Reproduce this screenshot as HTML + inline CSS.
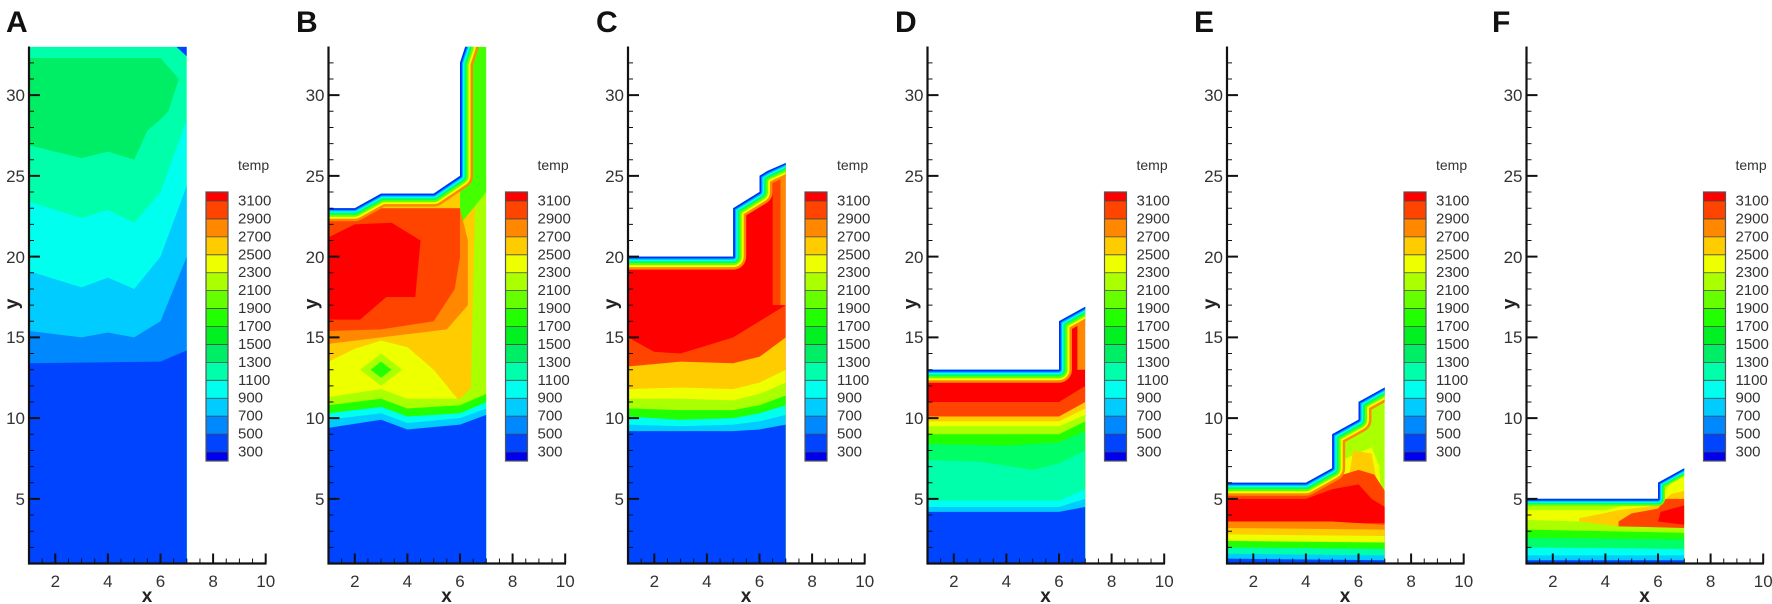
<!DOCTYPE html>
<html><head><meta charset="utf-8"><style>
html,body{margin:0;padding:0;background:#fff}
svg{display:block}
text{font-family:"Liberation Sans",Arial,sans-serif}
.tl{font-size:17px;fill:#333}
.cb{font-size:15px;fill:#333;dominant-baseline:central}
.ax{font-size:19px;font-weight:bold;fill:#222}
.lt{font-size:30px;font-weight:bold;fill:#111}
</style></head><body>
<svg width="1772" height="604" viewBox="0 0 1772 604" xmlns="http://www.w3.org/2000/svg">
<defs>
<g id="axes" stroke="#111" fill="none">
<path stroke-width="1" d="M29 547.35h5M29 531.2h5M29 515.05h5M29 482.75h5M29 466.6h5M29 450.45h5M29 434.3h5M29 402h5M29 385.85h5M29 369.7h5M29 353.55h5M29 321.25h5M29 305.1h5M29 288.95h5M29 272.8h5M29 240.5h5M29 224.35h5M29 208.2h5M29 192.05h5M29 159.75h5M29 143.6h5M29 127.45h5M29 111.3h5M29 79h5M29 62.85h5M42.15 563.5v-5M68.45 563.5v-5M81.6 563.5v-5M94.75 563.5v-5M121.05 563.5v-5M134.2 563.5v-5M147.35 563.5v-5M173.65 563.5v-5M186.8 563.5v-5M199.95 563.5v-5M226.25 563.5v-5M239.4 563.5v-5M252.55 563.5v-5"/>
<path stroke-width="2" d="M29 498.9h11M29 418.15h11M29 337.4h11M29 256.65h11M29 175.9h11M29 95.15h11M55.3 563.5v-10M107.9 563.5v-10M160.5 563.5v-10M213.1 563.5v-10M265.7 563.5v-10"/>
<path stroke-width="2.2" d="M29 46.5V564.5M28 563.5H266.5"/>
</g>
<g id="cbar">
<rect x="206" y="192" width="22" height="9" fill="#ff0000"/>
<rect x="206" y="201" width="22" height="17.93" fill="#ff4400"/>
<rect x="206" y="218.93" width="22" height="17.93" fill="#ff8800"/>
<rect x="206" y="236.86" width="22" height="17.93" fill="#ffcc00"/>
<rect x="206" y="254.79" width="22" height="17.93" fill="#eeff00"/>
<rect x="206" y="272.72" width="22" height="17.93" fill="#aaff00"/>
<rect x="206" y="290.65" width="22" height="17.93" fill="#66ff00"/>
<rect x="206" y="308.58" width="22" height="17.93" fill="#22ff00"/>
<rect x="206" y="326.51" width="22" height="17.93" fill="#00f022"/>
<rect x="206" y="344.44" width="22" height="17.93" fill="#00ee66"/>
<rect x="206" y="362.37" width="22" height="17.93" fill="#00ffaa"/>
<rect x="206" y="380.3" width="22" height="17.93" fill="#00ffee"/>
<rect x="206" y="398.23" width="22" height="17.93" fill="#00ccff"/>
<rect x="206" y="416.16" width="22" height="17.93" fill="#0088ff"/>
<rect x="206" y="434.09" width="22" height="17.93" fill="#0044ff"/>
<rect x="206" y="452" width="22" height="9" fill="#0000ee"/>
<path stroke="#444" stroke-width="0.8" fill="none" d="M206 201h22M206 218.93h22M206 236.86h22M206 254.79h22M206 272.72h22M206 290.65h22M206 308.58h22M206 326.51h22M206 344.44h22M206 362.37h22M206 380.3h22M206 398.23h22M206 416.16h22M206 434.09h22M206 452h22"/>
<rect x="206" y="192" width="22" height="269" fill="none" stroke="#555" stroke-width="1.2"/>
</g>
<clipPath id="cA" clipPathUnits="userSpaceOnUse"><rect x="1" y="1" width="6" height="32"/></clipPath>
<clipPath id="cB" clipPathUnits="userSpaceOnUse"><polygon points="1,1 7,1 7,33 6.2,33 6,32 6,25 5,23.9 3,23.9 2,23 1,23"/></clipPath>
<clipPath id="cC" clipPathUnits="userSpaceOnUse"><polygon points="1,1 7,1 7,25.8 6.3,25.3 6,25 6,24 5,23 5,20 1,20"/></clipPath>
<clipPath id="cD" clipPathUnits="userSpaceOnUse"><polygon points="1,1 7,1 7,16.9 6,16 6,13 1,13"/></clipPath>
<clipPath id="cE" clipPathUnits="userSpaceOnUse"><polygon points="1,1 7,1 7,11.9 6,11 6,9.9 5,9 5,6.9 4,6 1,6"/></clipPath>
<clipPath id="cF" clipPathUnits="userSpaceOnUse"><polygon points="1,1 7,1 7,6.9 6,6 6,5 1,5"/></clipPath>
</defs>

<!-- Panel A -->
<g transform="translate(0,0)">
<g transform="translate(29,563.5) scale(26.3,-16.15) translate(-1,-1)" clip-path="url(#cA)">
<rect x="1" y="1" width="6" height="32" fill="#00ffaa"/>
<polygon fill="#00ee66" points="1,32.3 6,32.3 6.7,31 6.3,29 6,28.5 5.5,27.8 5,26 4,26.5 3,26.1 1,26.9"/>
<polygon fill="#00ffee" points="1,23.4 3,22.4 4,22.9 5,22.1 6,24 7,28.5 7,1 1,1"/>
<polygon fill="#00ccff" points="1,19.1 3,18.1 4,18.7 5,18 6,20 7,24.4 7,1 1,1"/>
<polygon fill="#0088ff" points="1,15.4 3,15 4,15.3 5,15 6,16 7,20 7,1 1,1"/>
<polygon fill="#0044ff" points="1,13.4 6,13.5 7,14.2 7,1 1,1"/>
<polygon fill="#0044ff" points="6.6,33 7,33 7,32.4"/>
</g>
<use href="#axes"/><use href="#cbar"/>
</g>

<!-- Panel B -->
<g transform="translate(299.5,0)">
<g transform="translate(29,563.5) scale(26.3,-16.15) translate(-1,-1)" clip-path="url(#cB)">
<rect x="1" y="1" width="6" height="32" fill="#ffcc00"/>
<polygon fill="#aaff00" points="6.4,11 7,11 7,25 6.6,25"/>
<polygon fill="#44ff00" points="6,22 7,24 7,33 6,33"/>
<polygon fill="#ff8800" points="1,23 6,23 6.3,21 6.3,17 5.5,15.5 3,15 1,14.6"/>
<polygon fill="#ff4400" points="1,23 6,23 6,20 5.8,18 5,16 3,15.5 1,15.4"/>
<polygon fill="#ff0000" points="1,21.2 2,22 3.4,22.1 4.5,21 4.3,17.5 3.2,17.5 2.2,16.1 1,16.1"/>
<polygon fill="#eeff00" points="1,13.5 2,14.3 3,14.8 4,14.4 5,13 5.5,12 6,11 6,10 1,10"/>
<polygon fill="#aaff00" points="2.2,13 3,14 3.8,13 3,12"/>
<polygon fill="#22ff00" points="2.6,13 3,13.5 3.4,13 3,12.5"/>
<polygon fill="#aaff00" points="1,11.3 3,11.8 4,11.2 6,11.2 6.5,12 7,12 7,1 1,1"/>
<polygon fill="#22ff00" points="1,10.8 3,11.2 4,10.6 6,10.8 7,11.5 7,1 1,1"/>
<polygon fill="#00ffee" points="1,10.3 3,10.7 4,10.1 6,10.3 7,11 7,1 1,1"/>
<polygon fill="#00ccff" points="1,9.9 3,10.3 4,9.7 6,10 7,10.6 7,1 1,1"/>
<polygon fill="#0044ff" points="1,9.4 3,9.9 4,9.3 6,9.6 7,10.2 7,1 1,1"/>
<g fill="none" vector-effect="non-scaling-stroke" stroke-linejoin="round">
<polyline vector-effect="non-scaling-stroke" stroke="#ff8800" stroke-width="26" points="0.9,23 2,23 3,23.9 5,23.9 6,25 6,32 6.2,33 6.3,33.6" fill="none"/>
<polyline vector-effect="non-scaling-stroke" stroke="#eeff00" stroke-width="21" points="0.9,23 2,23 3,23.9 5,23.9 6,25 6,32 6.2,33 6.3,33.6" fill="none"/>
<polyline vector-effect="non-scaling-stroke" stroke="#66ff00" stroke-width="17" points="0.9,23 2,23 3,23.9 5,23.9 6,25 6,32 6.2,33 6.3,33.6" fill="none"/>
<polyline vector-effect="non-scaling-stroke" stroke="#00ff66" stroke-width="13" points="0.9,23 2,23 3,23.9 5,23.9 6,25 6,32 6.2,33 6.3,33.6" fill="none"/>
<polyline vector-effect="non-scaling-stroke" stroke="#00ffee" stroke-width="9" points="0.9,23 2,23 3,23.9 5,23.9 6,25 6,32 6.2,33 6.3,33.6" fill="none"/>
<polyline vector-effect="non-scaling-stroke" stroke="#00aaff" stroke-width="6" points="0.9,23 2,23 3,23.9 5,23.9 6,25 6,32 6.2,33 6.3,33.6" fill="none"/>
<polyline vector-effect="non-scaling-stroke" stroke="#0030ff" stroke-width="3.5" points="0.9,23 2,23 3,23.9 5,23.9 6,25 6,32 6.2,33 6.3,33.6" fill="none"/>
</g>
</g>
<use href="#axes"/><use href="#cbar"/>
</g>

<!-- Panel C -->
<g transform="translate(599,0)">
<g transform="translate(29,563.5) scale(26.3,-16.15) translate(-1,-1)" clip-path="url(#cC)">
<rect x="1" y="1" width="6" height="32" fill="#ff0000"/>
<polygon fill="#ff4400" points="6.5,17 7,17 7,26 6.5,25"/>
<polygon fill="#ff8800" points="6.8,17 7,17 7,26 6.8,25.5"/>
<polygon fill="#ff4400" points="1,15 2,14.1 3,14 4,14.5 5,15 6,16 7,17 7,1 1,1"/>
<polygon fill="#ffcc00" points="1,13.2 3,13.5 5,13.4 6,13.8 7,15 7,1 1,1"/>
<polygon fill="#eeff00" points="1,11.8 3,11.9 5,11.8 6,12.2 7,13 7,1 1,1"/>
<polygon fill="#aaff00" points="1,11.2 3,11.2 5,11.1 6,11.5 7,12.2 7,1 1,1"/>
<polygon fill="#22ff00" points="1,10.6 3,10.5 5,10.5 6,10.8 7,11.4 7,1 1,1"/>
<polygon fill="#00ffee" points="1,10.1 3,9.9 5,10 6,10.3 7,10.8 7,1 1,1"/>
<polygon fill="#00ccff" points="1,9.6 3,9.5 5,9.6 6,9.8 7,10.2 7,1 1,1"/>
<polygon fill="#0044ff" points="1,9.2 5,9.2 6,9.3 7,9.6 7,1 1,1"/>
<polyline vector-effect="non-scaling-stroke" stroke="#ff8800" stroke-width="26" fill="none" stroke-linejoin="round" points="0.9,20 5,20 5,23 6,24 6,25 6.3,25.3 7.1,25.9"/>
<polyline vector-effect="non-scaling-stroke" stroke="#eeff00" stroke-width="21" fill="none" stroke-linejoin="round" points="0.9,20 5,20 5,23 6,24 6,25 6.3,25.3 7.1,25.9"/>
<polyline vector-effect="non-scaling-stroke" stroke="#66ff00" stroke-width="17" fill="none" stroke-linejoin="round" points="0.9,20 5,20 5,23 6,24 6,25 6.3,25.3 7.1,25.9"/>
<polyline vector-effect="non-scaling-stroke" stroke="#00ff66" stroke-width="13" fill="none" stroke-linejoin="round" points="0.9,20 5,20 5,23 6,24 6,25 6.3,25.3 7.1,25.9"/>
<polyline vector-effect="non-scaling-stroke" stroke="#00ffee" stroke-width="9" fill="none" stroke-linejoin="round" points="0.9,20 5,20 5,23 6,24 6,25 6.3,25.3 7.1,25.9"/>
<polyline vector-effect="non-scaling-stroke" stroke="#00aaff" stroke-width="6" fill="none" stroke-linejoin="round" points="0.9,20 5,20 5,23 6,24 6,25 6.3,25.3 7.1,25.9"/>
<polyline vector-effect="non-scaling-stroke" stroke="#0030ff" stroke-width="3.5" fill="none" stroke-linejoin="round" points="0.9,20 5,20 5,23 6,24 6,25 6.3,25.3 7.1,25.9"/>
</g>
<use href="#axes"/><use href="#cbar"/>
</g>

<!-- Panel D -->
<g transform="translate(898.5,0)">
<g transform="translate(29,563.5) scale(26.3,-16.15) translate(-1,-1)" clip-path="url(#cD)">
<rect x="1" y="1" width="6" height="32" fill="#ff0000"/>
<polygon fill="#ff8800" points="6.7,13 7,13 7,17 6.7,16.5"/>
<polygon fill="#ff4400" points="1,11 6,11 7,12 7,1 1,1"/>
<polygon fill="#ffcc00" points="1,10.1 6,10.1 7,11 7,1 1,1"/>
<polygon fill="#eeff00" points="1,9.8 6,9.8 7,10.6 7,1 1,1"/>
<polygon fill="#aaff00" points="1,9.5 6,9.5 7,10.2 7,1 1,1"/>
<polygon fill="#22ff00" points="1,9 6,9 7,9.8 7,1 1,1"/>
<polygon fill="#00ff66" points="1,8.4 4,8.3 6,8.5 7,9.2 7,1 1,1"/>
<polygon fill="#00ffaa" points="1,7.4 3,7.3 5,6.8 6,7.2 7,8 7,1 1,1"/>
<polygon fill="#00ffee" points="1,4.9 4,4.9 6,4.9 7,5.6 7,1 1,1"/>
<polygon fill="#00ccff" points="1,4.5 6,4.5 7,5 7,1 1,1"/>
<polygon fill="#0044ff" points="1,4.2 6,4.2 7,4.5 7,1 1,1"/>
<polyline vector-effect="non-scaling-stroke" stroke="#ff8800" stroke-width="26" fill="none" stroke-linejoin="round" points="0.9,13 6,13 6,16 7.1,17"/>
<polyline vector-effect="non-scaling-stroke" stroke="#eeff00" stroke-width="21" fill="none" stroke-linejoin="round" points="0.9,13 6,13 6,16 7.1,17"/>
<polyline vector-effect="non-scaling-stroke" stroke="#66ff00" stroke-width="17" fill="none" stroke-linejoin="round" points="0.9,13 6,13 6,16 7.1,17"/>
<polyline vector-effect="non-scaling-stroke" stroke="#00ff66" stroke-width="13" fill="none" stroke-linejoin="round" points="0.9,13 6,13 6,16 7.1,17"/>
<polyline vector-effect="non-scaling-stroke" stroke="#00ffee" stroke-width="9" fill="none" stroke-linejoin="round" points="0.9,13 6,13 6,16 7.1,17"/>
<polyline vector-effect="non-scaling-stroke" stroke="#00aaff" stroke-width="6" fill="none" stroke-linejoin="round" points="0.9,13 6,13 6,16 7.1,17"/>
<polyline vector-effect="non-scaling-stroke" stroke="#0030ff" stroke-width="3.5" fill="none" stroke-linejoin="round" points="0.9,13 6,13 6,16 7.1,17"/>
</g>
<use href="#axes"/><use href="#cbar"/>
</g>

<!-- Panel E -->
<g transform="translate(1198,0)">
<g transform="translate(29,563.5) scale(26.3,-16.15) translate(-1,-1)" clip-path="url(#cE)">
<rect x="1" y="1" width="6" height="32" fill="#aaff00"/>
<polygon fill="#eeff00" points="5.5,7.5 6.5,8.2 6.8,7 6.9,3 5,3"/>
<polygon fill="#ffcc00" points="5.8,8 6.5,7.8 6.7,6 6.8,3.5 5.5,5"/>
<polygon fill="#ff4400" points="1,5.3 4,5.3 5,6.3 6,6.8 6.6,6.5 7,5.5 7,1 1,1"/>
<polygon fill="#ff0000" points="1,5 4,5 5,5.6 6,5.9 6.5,5 7,4.5 7,3.5 1,3.5"/>
<polygon fill="#ff8800" points="1,3.6 5,3.6 7,3.4 7,1 1,1"/>
<polygon fill="#ffcc00" points="1,3.2 7,3.1 7,1 1,1"/>
<polygon fill="#eeff00" points="1,2.8 7,2.7 7,1 1,1"/>
<polygon fill="#22ff00" points="1,2.4 7,2.3 7,1 1,1"/>
<polygon fill="#00ffaa" points="1,2 7,1.9 7,1 1,1"/>
<polygon fill="#00ccff" points="1,1.6 7,1.5 7,1 1,1"/>
<polygon fill="#0044ff" points="1,1.3 7,1.2 7,1 1,1"/>
<polyline vector-effect="non-scaling-stroke" stroke="#ff8800" stroke-width="26" fill="none" stroke-linejoin="round" points="0.9,6 4,6 5,6.9 5,9 6,9.9 6,11 7.1,12"/>
<polyline vector-effect="non-scaling-stroke" stroke="#eeff00" stroke-width="21" fill="none" stroke-linejoin="round" points="0.9,6 4,6 5,6.9 5,9 6,9.9 6,11 7.1,12"/>
<polyline vector-effect="non-scaling-stroke" stroke="#66ff00" stroke-width="17" fill="none" stroke-linejoin="round" points="0.9,6 4,6 5,6.9 5,9 6,9.9 6,11 7.1,12"/>
<polyline vector-effect="non-scaling-stroke" stroke="#00ff66" stroke-width="13" fill="none" stroke-linejoin="round" points="0.9,6 4,6 5,6.9 5,9 6,9.9 6,11 7.1,12"/>
<polyline vector-effect="non-scaling-stroke" stroke="#00ffee" stroke-width="9" fill="none" stroke-linejoin="round" points="0.9,6 4,6 5,6.9 5,9 6,9.9 6,11 7.1,12"/>
<polyline vector-effect="non-scaling-stroke" stroke="#00aaff" stroke-width="6" fill="none" stroke-linejoin="round" points="0.9,6 4,6 5,6.9 5,9 6,9.9 6,11 7.1,12"/>
<polyline vector-effect="non-scaling-stroke" stroke="#0030ff" stroke-width="3.5" fill="none" stroke-linejoin="round" points="0.9,6 4,6 5,6.9 5,9 6,9.9 6,11 7.1,12"/>
</g>
<use href="#axes"/><use href="#cbar"/>
</g>

<!-- Panel F -->
<g transform="translate(1497.5,0)">
<g transform="translate(29,563.5) scale(26.3,-16.15) translate(-1,-1)" clip-path="url(#cF)">
<rect x="1" y="1" width="6" height="32" fill="#aaff00"/>
<polygon fill="#eeff00" points="1,4.3 4,4.3 5,4.7 6,5 6.5,6 7,6.5 7,1 1,1"/>
<polygon fill="#ffcc00" points="3,3.8 4.5,4.3 6,4.6 6.5,5.3 7,5.5 7,3 3,3"/>
<polygon fill="#ff4400" points="4.5,3.6 5,4.1 6,4.4 6.3,5 7,5 7,3.2 4.5,3.2"/>
<polygon fill="#ff0000" points="6,3.6 6.1,4.2 7,4.6 7,3.4"/>
<polygon fill="#aaff00" points="1,3.7 3,3.6 4.5,3.3 7,3.2 7,1 1,1"/>
<polygon fill="#22ff00" points="1,3.1 7,2.9 7,1 1,1"/>
<polygon fill="#00ff66" points="1,2.6 7,2.5 7,1 1,1"/>
<polygon fill="#00ffee" points="1,2 7,1.9 7,1 1,1"/>
<polygon fill="#00ccff" points="1,1.5 7,1.5 7,1 1,1"/>
<polygon fill="#0044ff" points="1,1.2 7,1.2 7,1 1,1"/>
<polyline vector-effect="non-scaling-stroke" stroke="#66ff00" stroke-width="14" fill="none" stroke-linejoin="round" points="0.9,5 6,5 6,6 7.1,7"/>
<polyline vector-effect="non-scaling-stroke" stroke="#00ff66" stroke-width="11" fill="none" stroke-linejoin="round" points="0.9,5 6,5 6,6 7.1,7"/>
<polyline vector-effect="non-scaling-stroke" stroke="#00ffee" stroke-width="8" fill="none" stroke-linejoin="round" points="0.9,5 6,5 6,6 7.1,7"/>
<polyline vector-effect="non-scaling-stroke" stroke="#00aaff" stroke-width="5.5" fill="none" stroke-linejoin="round" points="0.9,5 6,5 6,6 7.1,7"/>
<polyline vector-effect="non-scaling-stroke" stroke="#0030ff" stroke-width="3.5" fill="none" stroke-linejoin="round" points="0.9,5 6,5 6,6 7.1,7"/>
</g>
<use href="#axes"/><use href="#cbar"/>
</g>

<!-- Text per panel -->
<g id="txtA">
<g class="tl" text-anchor="end"><text x="25" y="505">5</text><text x="25" y="424">10</text><text x="25" y="343">15</text><text x="25" y="263">20</text><text x="25" y="182">25</text><text x="25" y="101">30</text></g>
<g class="tl" text-anchor="middle"><text x="55.3" y="587">2</text><text x="107.9" y="587">4</text><text x="160.5" y="587">6</text><text x="213.1" y="587">8</text><text x="265.7" y="587">10</text></g>
<text class="ax" x="147" y="602" text-anchor="middle">x</text>
<text class="ax" transform="translate(18,304) rotate(-90)" text-anchor="middle">y</text>
<text x="238" y="170" font-size="14" fill="#333">temp</text>
<g class="cb"><text x="238" y="201">3100</text><text x="238" y="218.9">2900</text><text x="238" y="236.9">2700</text><text x="238" y="254.8">2500</text><text x="238" y="272.7">2300</text><text x="238" y="290.6">2100</text><text x="238" y="308.6">1900</text><text x="238" y="326.5">1700</text><text x="238" y="344.4">1500</text><text x="238" y="362.4">1300</text><text x="238" y="380.3">1100</text><text x="238" y="398.2">900</text><text x="238" y="416.1">700</text><text x="238" y="434.1">500</text><text x="238" y="452">300</text></g>
</g>
<g transform="translate(299.5,0)">
<g class="tl" text-anchor="end"><text x="25" y="505">5</text><text x="25" y="424">10</text><text x="25" y="343">15</text><text x="25" y="263">20</text><text x="25" y="182">25</text><text x="25" y="101">30</text></g>
<g class="tl" text-anchor="middle"><text x="55.3" y="587">2</text><text x="107.9" y="587">4</text><text x="160.5" y="587">6</text><text x="213.1" y="587">8</text><text x="265.7" y="587">10</text></g>
<text class="ax" x="147" y="602" text-anchor="middle">x</text>
<text class="ax" transform="translate(18,304) rotate(-90)" text-anchor="middle">y</text>
<text x="238" y="170" font-size="14" fill="#333">temp</text>
<g class="cb"><text x="238" y="201">3100</text><text x="238" y="218.9">2900</text><text x="238" y="236.9">2700</text><text x="238" y="254.8">2500</text><text x="238" y="272.7">2300</text><text x="238" y="290.6">2100</text><text x="238" y="308.6">1900</text><text x="238" y="326.5">1700</text><text x="238" y="344.4">1500</text><text x="238" y="362.4">1300</text><text x="238" y="380.3">1100</text><text x="238" y="398.2">900</text><text x="238" y="416.1">700</text><text x="238" y="434.1">500</text><text x="238" y="452">300</text></g>
</g>
<g transform="translate(599,0)">
<g class="tl" text-anchor="end"><text x="25" y="505">5</text><text x="25" y="424">10</text><text x="25" y="343">15</text><text x="25" y="263">20</text><text x="25" y="182">25</text><text x="25" y="101">30</text></g>
<g class="tl" text-anchor="middle"><text x="55.3" y="587">2</text><text x="107.9" y="587">4</text><text x="160.5" y="587">6</text><text x="213.1" y="587">8</text><text x="265.7" y="587">10</text></g>
<text class="ax" x="147" y="602" text-anchor="middle">x</text>
<text class="ax" transform="translate(18,304) rotate(-90)" text-anchor="middle">y</text>
<text x="238" y="170" font-size="14" fill="#333">temp</text>
<g class="cb"><text x="238" y="201">3100</text><text x="238" y="218.9">2900</text><text x="238" y="236.9">2700</text><text x="238" y="254.8">2500</text><text x="238" y="272.7">2300</text><text x="238" y="290.6">2100</text><text x="238" y="308.6">1900</text><text x="238" y="326.5">1700</text><text x="238" y="344.4">1500</text><text x="238" y="362.4">1300</text><text x="238" y="380.3">1100</text><text x="238" y="398.2">900</text><text x="238" y="416.1">700</text><text x="238" y="434.1">500</text><text x="238" y="452">300</text></g>
</g>
<g transform="translate(898.5,0)">
<g class="tl" text-anchor="end"><text x="25" y="505">5</text><text x="25" y="424">10</text><text x="25" y="343">15</text><text x="25" y="263">20</text><text x="25" y="182">25</text><text x="25" y="101">30</text></g>
<g class="tl" text-anchor="middle"><text x="55.3" y="587">2</text><text x="107.9" y="587">4</text><text x="160.5" y="587">6</text><text x="213.1" y="587">8</text><text x="265.7" y="587">10</text></g>
<text class="ax" x="147" y="602" text-anchor="middle">x</text>
<text class="ax" transform="translate(18,304) rotate(-90)" text-anchor="middle">y</text>
<text x="238" y="170" font-size="14" fill="#333">temp</text>
<g class="cb"><text x="238" y="201">3100</text><text x="238" y="218.9">2900</text><text x="238" y="236.9">2700</text><text x="238" y="254.8">2500</text><text x="238" y="272.7">2300</text><text x="238" y="290.6">2100</text><text x="238" y="308.6">1900</text><text x="238" y="326.5">1700</text><text x="238" y="344.4">1500</text><text x="238" y="362.4">1300</text><text x="238" y="380.3">1100</text><text x="238" y="398.2">900</text><text x="238" y="416.1">700</text><text x="238" y="434.1">500</text><text x="238" y="452">300</text></g>
</g>
<g transform="translate(1198,0)">
<g class="tl" text-anchor="end"><text x="25" y="505">5</text><text x="25" y="424">10</text><text x="25" y="343">15</text><text x="25" y="263">20</text><text x="25" y="182">25</text><text x="25" y="101">30</text></g>
<g class="tl" text-anchor="middle"><text x="55.3" y="587">2</text><text x="107.9" y="587">4</text><text x="160.5" y="587">6</text><text x="213.1" y="587">8</text><text x="265.7" y="587">10</text></g>
<text class="ax" x="147" y="602" text-anchor="middle">x</text>
<text class="ax" transform="translate(18,304) rotate(-90)" text-anchor="middle">y</text>
<text x="238" y="170" font-size="14" fill="#333">temp</text>
<g class="cb"><text x="238" y="201">3100</text><text x="238" y="218.9">2900</text><text x="238" y="236.9">2700</text><text x="238" y="254.8">2500</text><text x="238" y="272.7">2300</text><text x="238" y="290.6">2100</text><text x="238" y="308.6">1900</text><text x="238" y="326.5">1700</text><text x="238" y="344.4">1500</text><text x="238" y="362.4">1300</text><text x="238" y="380.3">1100</text><text x="238" y="398.2">900</text><text x="238" y="416.1">700</text><text x="238" y="434.1">500</text><text x="238" y="452">300</text></g>
</g>
<g transform="translate(1497.5,0)">
<g class="tl" text-anchor="end"><text x="25" y="505">5</text><text x="25" y="424">10</text><text x="25" y="343">15</text><text x="25" y="263">20</text><text x="25" y="182">25</text><text x="25" y="101">30</text></g>
<g class="tl" text-anchor="middle"><text x="55.3" y="587">2</text><text x="107.9" y="587">4</text><text x="160.5" y="587">6</text><text x="213.1" y="587">8</text><text x="265.7" y="587">10</text></g>
<text class="ax" x="147" y="602" text-anchor="middle">x</text>
<text class="ax" transform="translate(18,304) rotate(-90)" text-anchor="middle">y</text>
<text x="238" y="170" font-size="14" fill="#333">temp</text>
<g class="cb"><text x="238" y="201">3100</text><text x="238" y="218.9">2900</text><text x="238" y="236.9">2700</text><text x="238" y="254.8">2500</text><text x="238" y="272.7">2300</text><text x="238" y="290.6">2100</text><text x="238" y="308.6">1900</text><text x="238" y="326.5">1700</text><text x="238" y="344.4">1500</text><text x="238" y="362.4">1300</text><text x="238" y="380.3">1100</text><text x="238" y="398.2">900</text><text x="238" y="416.1">700</text><text x="238" y="434.1">500</text><text x="238" y="452">300</text></g>
</g>

<text class="lt" x="6" y="32">A</text>
<text class="lt" x="296" y="32">B</text>
<text class="lt" x="596" y="32">C</text>
<text class="lt" x="895" y="32">D</text>
<text class="lt" x="1194" y="32">E</text>
<text class="lt" x="1492" y="32">F</text>
</svg>
</body></html>
